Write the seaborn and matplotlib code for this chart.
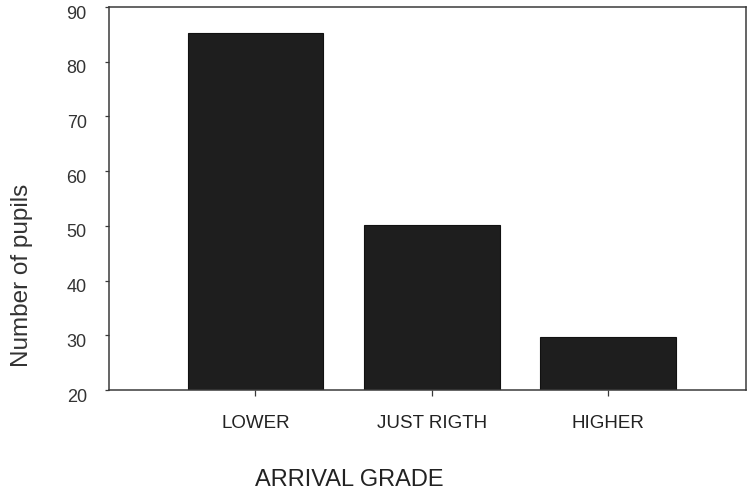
import matplotlib
matplotlib.use("Agg")
import matplotlib.pyplot as plt
import matplotlib.transforms as mtransforms
import seaborn as sns
import pandas as pd

# valeurs
grades = ["LOWER", "JUST RIGTH", "HIGHER"]
pupils = [85.2, 50.2, 29.7]
yticks = [20, 30, 40, 50, 60, 70, 80, 90]

df = pd.DataFrame({"grade": grades, "pupils": pupils})

sns.set_style("white")
plt.rcParams["font.family"] = ["Liberation Sans", "DejaVu Sans"]

fig = plt.figure(figsize=(7.48, 4.93), dpi=100)
ax = fig.add_axes([0.1457, 0.2089, 0.8516, 0.7769])

sns.barplot(data=df, x="grade", y="pupils", color="#1e1e1e", saturation=1,
            width=0.77, edgecolor="#111111", linewidth=0.8, ax=ax)

ax.set_ylim(20, 90)
ax.set_xlim(-0.83, 2.78)
ax.set_yticks(yticks)
ax.set_yticklabels([str(t) for t in yticks])

for side in ["left", "right", "top", "bottom"]:
    ax.spines[side].set_visible(True)
    ax.spines[side].set_color("#3a3a3a")
    ax.spines[side].set_linewidth(1.1)

ax.tick_params(axis="y", left=True, direction="out", length=3, width=0.9, color="#3a3a3a",
               pad=13, labelsize=13, labelcolor="#333333")
ax.tick_params(axis="x", bottom=True, direction="out", length=4, width=0.9, color="#3a3a3a",
               pad=14, labelsize=13.5, labelcolor="#222222")

# le scan décale un peu les libellés vers le bas
offset = mtransforms.ScaledTranslation(0, -5 / 100, fig.dpi_scale_trans)
for lab in ax.get_yticklabels():
    lab.set_transform(lab.get_transform() + offset)

ax.set_xlabel("ARRIVAL GRADE", fontsize=17, color="#222222")
ax.xaxis.set_label_coords(0.378, -0.205)
ax.set_ylabel("Number of pupils", fontsize=17.5, color="#333333")
ax.yaxis.set_label_coords(-0.119, 0.30)

fig.savefig("out.png", dpi=100)
